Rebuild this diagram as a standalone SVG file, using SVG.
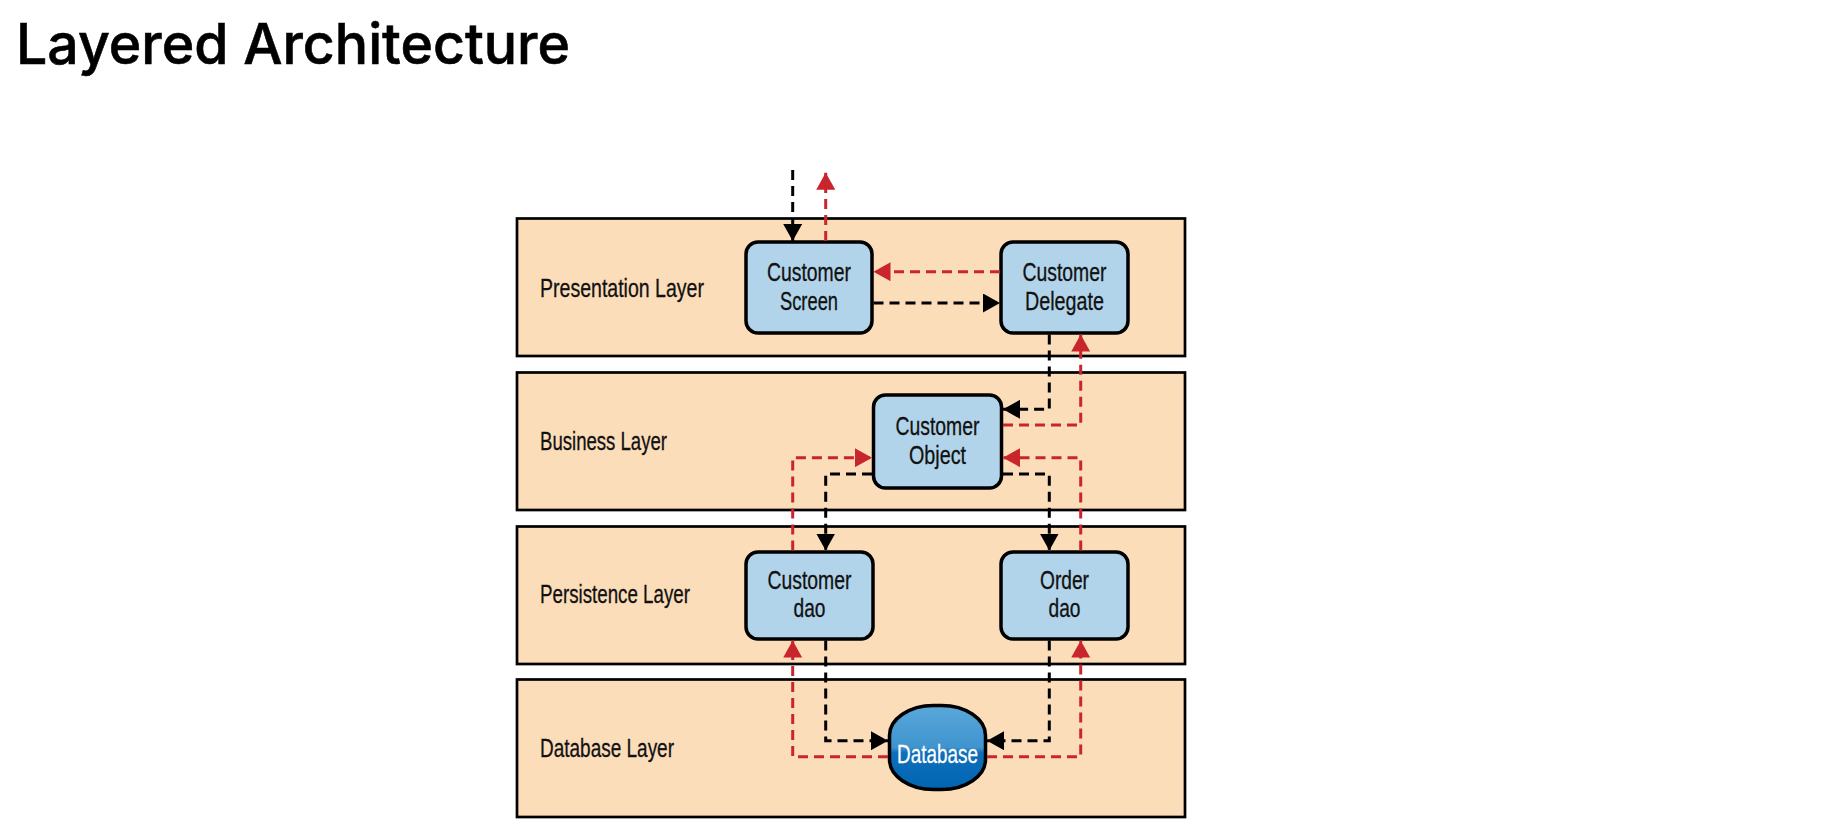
<svg xmlns="http://www.w3.org/2000/svg" width="1843" height="834" viewBox="0 0 1843 834">
<style>
.layer{fill:#FCDDBA;stroke:#000;stroke-width:2.7}
.box{fill:#B2D4EA;stroke:#000;stroke-width:3.5}
.lbl{font-family:"Liberation Sans",Arial,sans-serif;font-size:26px;fill:#111;stroke:#111;stroke-width:0.3}
.nt{font-family:"Liberation Sans",Arial,sans-serif;font-size:26px;fill:#111;stroke:#111;stroke-width:0.3;text-anchor:middle}
.blk{fill:none;stroke:#000;stroke-width:3;stroke-dasharray:10 6}
.red{fill:none;stroke:#C9252C;stroke-width:3;stroke-dasharray:10 6}
</style>
<defs>
<marker id="ab" markerUnits="userSpaceOnUse" markerWidth="18" markerHeight="19" refX="17" refY="9.5" orient="auto" viewBox="0 0 18 19">
<path d="M0,0 L17,9.5 L0,19 z" fill="#000"/>
</marker>
<marker id="ar" markerUnits="userSpaceOnUse" markerWidth="18" markerHeight="19" refX="17" refY="9.5" orient="auto" viewBox="0 0 18 19">
<path d="M0,0 L17,9.5 L0,19 z" fill="#C9252C"/>
</marker>
<linearGradient id="dbg" x1="0" y1="0" x2="0" y2="1">
<stop offset="0" stop-color="#5AA7DA"/>
<stop offset="0.5" stop-color="#3F94CE"/>
<stop offset="0.56" stop-color="#106FBB"/>
<stop offset="1" stop-color="#0065B2"/>
</linearGradient>
</defs>
<rect width="1843" height="834" fill="#fff"/>
<text x="16" y="64" font-family="Inter,'Noto Sans',sans-serif" font-size="56" font-weight="500" fill="#000" stroke="#000" stroke-width="0.6" textLength="554" lengthAdjust="spacingAndGlyphs">Layered Architecture</text>

<g id="layer-presentation">
<rect class="layer" x="517" y="218.5" width="668" height="137.5"/>
<text class="lbl" x="540" y="296.5" textLength="164" lengthAdjust="spacingAndGlyphs">Presentation Layer</text>
</g>
<g id="layer-business">
<rect class="layer" x="517" y="372.5" width="668" height="137.5"/>
<text class="lbl" x="540" y="450" textLength="127" lengthAdjust="spacingAndGlyphs">Business Layer</text>
</g>
<g id="layer-persistence">
<rect class="layer" x="517" y="526.5" width="668" height="137.5"/>
<text class="lbl" x="540" y="603" textLength="150" lengthAdjust="spacingAndGlyphs">Persistence Layer</text>
</g>
<g id="layer-database">
<rect class="layer" x="517" y="679.5" width="668" height="137.5"/>
<text class="lbl" x="540" y="756.5" textLength="134" lengthAdjust="spacingAndGlyphs">Database Layer</text>
</g>

<g id="customer-screen">
<rect class="box" x="746" y="242" width="126" height="91" rx="12"/>
<text class="nt" x="809" y="281" textLength="84" lengthAdjust="spacingAndGlyphs">Customer</text>
<text class="nt" x="809" y="309.5" textLength="58" lengthAdjust="spacingAndGlyphs">Screen</text>
</g>
<g id="customer-delegate">
<rect class="box" x="1001" y="242" width="127" height="91" rx="12"/>
<text class="nt" x="1064.5" y="281" textLength="84" lengthAdjust="spacingAndGlyphs">Customer</text>
<text class="nt" x="1064.5" y="309.5" textLength="79" lengthAdjust="spacingAndGlyphs">Delegate</text>
</g>
<g id="customer-object">
<rect class="box" x="873.5" y="395" width="128" height="93" rx="12"/>
<text class="nt" x="937.5" y="435" textLength="84" lengthAdjust="spacingAndGlyphs">Customer</text>
<text class="nt" x="937.5" y="463.5" textLength="57" lengthAdjust="spacingAndGlyphs">Object</text>
</g>
<g id="customer-dao">
<rect class="box" x="746" y="552" width="127" height="87" rx="12"/>
<text class="nt" x="809.5" y="588.5" textLength="84" lengthAdjust="spacingAndGlyphs">Customer</text>
<text class="nt" x="809.5" y="617" textLength="32" lengthAdjust="spacingAndGlyphs">dao</text>
</g>
<g id="order-dao">
<rect class="box" x="1001" y="552" width="127" height="87" rx="12"/>
<text class="nt" x="1064.5" y="588.5" textLength="49" lengthAdjust="spacingAndGlyphs">Order</text>
<text class="nt" x="1064.5" y="617" textLength="32" lengthAdjust="spacingAndGlyphs">dao</text>
</g>
<g id="database">
<rect x="889.5" y="705.5" width="96" height="84" rx="44" ry="30" fill="url(#dbg)" stroke="#000" stroke-width="3.5"/>
<text class="nt" x="937.5" y="763" style="fill:#fff;stroke:#fff;stroke-width:0.3" textLength="81" lengthAdjust="spacingAndGlyphs">Database</text>
</g>

<g id="connectors">
<path class="blk" d="M792.7,170 V241" marker-end="url(#ab)"/>
<path class="red" d="M825.7,241 V172.7" marker-end="url(#ar)"/>
<path class="red" d="M1000,271.7 H873.5" marker-end="url(#ar)"/>
<path class="blk" d="M873.5,303 H1000" marker-end="url(#ab)"/>
<path class="blk" d="M1049.3,334.5 V409.3 H1003" marker-end="url(#ab)"/>
<path class="red" d="M1003,425 H1080.7 V334.5" marker-end="url(#ar)"/>
<path class="red" d="M792.7,550.5 V457.7 H872" marker-end="url(#ar)"/>
<path class="blk" d="M872,474 H825.7 V550.5" marker-end="url(#ab)"/>
<path class="red" d="M1080.7,550.5 V457.7 H1003" marker-end="url(#ar)"/>
<path class="blk" d="M1003,474 H1049.3 V550.5" marker-end="url(#ab)"/>
<path class="blk" d="M825.7,640.5 V740.7 H888" marker-end="url(#ab)"/>
<path class="red" d="M888,756.7 H792.7 V640.5" marker-end="url(#ar)"/>
<path class="blk" d="M1049.3,640.5 V740.7 H987" marker-end="url(#ab)"/>
<path class="red" d="M987,756.7 H1080.7 V640.5" marker-end="url(#ar)"/>
</g>
</svg>
